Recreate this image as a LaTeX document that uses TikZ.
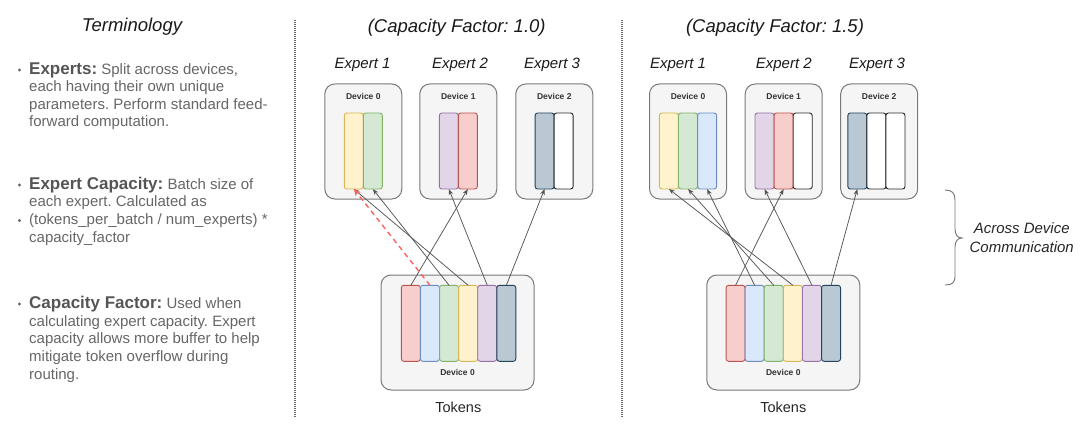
\documentclass[tikz,border=0pt]{standalone}
\usepackage{fontspec}
\setmainfont{Liberation Sans}
\usetikzlibrary{arrows.meta}
\frenchspacing
\definecolor{redF}{HTML}{F8CECC}\definecolor{redD}{HTML}{B85450}
\definecolor{blueF}{HTML}{DAE8FC}\definecolor{blueD}{HTML}{6C8EBF}
\definecolor{greenF}{HTML}{D5E8D4}\definecolor{greenD}{HTML}{82B366}
\definecolor{yelF}{HTML}{FFF2CC}\definecolor{yelD}{HTML}{D6B656}
\definecolor{purF}{HTML}{E1D5E7}\definecolor{purD}{HTML}{9673A6}
\definecolor{gryF}{HTML}{BAC8D3}\definecolor{gryD}{HTML}{23445D}
\definecolor{boxF}{HTML}{F5F5F5}\definecolor{boxD}{HTML}{7A7A7A}
\definecolor{txtG}{HTML}{666666}\definecolor{headG}{HTML}{555555}
\definecolor{arrG}{HTML}{555555}\definecolor{dashR}{HTML}{FF6161}
\begin{document}
\begin{tikzpicture}[x=1pt,y=-1pt,
  bar/.style={rectangle, rounded corners=2.5pt, minimum width=19pt, minimum height=76pt, inner sep=0pt, outer sep=0pt, line width=0.9pt},
  rd/.style={bar, fill=redF, draw=redD},
  bl/.style={bar, fill=blueF, draw=blueD},
  gr/.style={bar, fill=greenF, draw=greenD},
  ye/.style={bar, fill=yelF, draw=yelD},
  pu/.style={bar, fill=purF, draw=purD},
  gy/.style={bar, fill=gryF, draw=gryD},
  wh/.style={bar, fill=white, draw=black!85},
  devbox/.style={rectangle, rounded corners=10pt, minimum width=77pt, minimum height=115pt, fill=boxF, draw=boxD, line width=1pt, inner sep=0pt},
  tokbox/.style={devbox, minimum width=153pt},
  devlbl/.style={inner sep=0pt, font=\fontsize{8.5}{10}\selectfont\bfseries, text=black!80},
  ttl/.style={inner sep=0pt, font=\fontsize{18.5}{22}\selectfont\itshape, text=black!90},
  explbl/.style={inner sep=0pt, font=\fontsize{15}{18}\selectfont\itshape, text=black!90},
  body/.style={inner sep=0pt, anchor=base west, font=\fontsize{15}{18}\selectfont, text=txtG},
  dot/.style={circle, fill=txtG, inner sep=0pt, minimum size=3.2pt},
  arr/.style={draw=arrG, line width=0.75pt, -{Stealth[length=6pt,width=4.5pt]}},
  redarr/.style={draw=dashR, line width=1.4pt, dash pattern=on 5pt off 4pt, -{Stealth[length=7pt,width=6pt,fill=red!80!black]}},
  sep/.style={draw=black!60, line width=1.1pt, dash pattern=on 1pt off 1pt},
  brc/.style={draw=black!55, line width=0.9pt}
]
\useasboundingbox (0,0) rectangle (1080,428);

% ---------- left column ----------
\node[ttl] (term) at (132,27) {Terminology};

\node[dot] (d1) at (19.5,70) {};
\node[body] (b1l1) at (29,74.5) {{\fontsize{17}{18}\selectfont\bfseries\color{headG}Experts:} Split across devices,};
\node[body] (b1l2) at (29,92) {each having their own unique};
\node[body] (b1l3) at (29,109.5) {parameters. Perform standard feed-};
\node[body] (b1l4) at (29,127) {forward computation.};

\node[dot] (d2) at (19.5,185) {};
\node[body] (b2l1) at (29,189.3) {{\fontsize{17}{18}\selectfont\bfseries\color{headG}Expert Capacity:} Batch size of};
\node[body] (b2l2) at (29,206.8) {each expert. Calculated as};
\node[dot] (d3) at (19.5,220.5) {};
\node[body] (b2l3) at (29,224.5) {(tokens\_per\_batch / num\_experts) *};
\node[body] (b2l4) at (29,242) {capacity\_factor};

\node[dot] (d4) at (19.5,304) {};
\node[body] (b3l1) at (29,308.3) {{\fontsize{17}{18}\selectfont\bfseries\color{headG}Capacity Factor:} Used when};
\node[body] (b3l2) at (29,326) {calculating expert capacity. Expert};
\node[body] (b3l3) at (29,343.7) {capacity allows more buffer to help};
\node[body] (b3l4) at (29,361.3) {mitigate token overflow during};
\node[body] (b3l5) at (29,379) {routing.};

% separators
\coordinate (s1a) at (295,20); \coordinate (s1b) at (295,418);
\coordinate (s2a) at (622,20); \coordinate (s2b) at (622,418);
\draw[sep] (s1a) -- (s1b);
\draw[sep] (s2a) -- (s2b);

% ---------- middle panel (CF 1.0) ----------
\node[ttl] (t1) at (456.7,28) {(Capacity Factor: 1.0)};
\node[explbl] (me1) at (362.5,65) {Expert 1};
\node[explbl] (me2) at (460,65) {Expert 2};
\node[explbl] (me3) at (552,65) {Expert 3};

\node[devbox] (mD0) at (363.3,141.5) {};
\node[devbox] (mD1) at (458.3,141.5) {};
\node[devbox] (mD2) at (554.3,141.5) {};
\node[devlbl] (mD0l) at (363.3,96) {Device 0};
\node[devlbl] (mD1l) at (458.3,96) {Device 1};
\node[devlbl] (mD2l) at (554.3,96) {Device 2};
\node[ye] (m0a) at (353.8,151) {};
\node[gr] (m0b) at (372.8,151) {};
\node[pu] (m1a) at (448.8,151) {};
\node[rd] (m1b) at (467.8,151) {};
\node[gy] (m2a) at (544.6,151) {};
\node[wh] (m2b) at (563.6,151) {};

\node[tokbox] (mT) at (457.5,332.5) {};
\node[devlbl] (mTl) at (457.5,372.7) {Device 0};
\node[rd] (mt1) at (410.85,323.3) {};
\node[bl] (mt2) at (429.95,323.3) {};
\node[gr] (mt3) at (449.05,323.3) {};
\node[ye] (mt4) at (468.15,323.3) {};
\node[pu] (mt5) at (487.25,323.3) {};
\node[gy] (mt6) at (506.35,323.3) {};
\node[explbl, font=\fontsize{14.5}{17}\selectfont, text=black!85] (mtok) at (458.3,407.5) {Tokens};

\draw[arr] (mt1.north) -- (m1b.south);
\draw[arr] (mt3.north) -- (m0b.south);
\draw[arr] (mt4.north) -- (m0a.south);
\draw[arr] (mt5.north) -- (m1a.south);
\draw[arr] (mt6.north) -- (m2a.south);
\draw[redarr] (mt2.north) -- (m0a.south);

% ---------- right panel (CF 1.5) ----------
\node[ttl] (t2) at (775,28) {(Capacity Factor: 1.5)};
\node[explbl] (re1) at (678,65) {Expert 1};
\node[explbl] (re2) at (783.8,65) {Expert 2};
\node[explbl] (re3) at (877,65) {Expert 3};

\node[devbox] (rD0) at (688,141.5) {};
\node[devbox] (rD1) at (783.7,141.5) {};
\node[devbox] (rD2) at (879.2,141.5) {};
\node[devlbl] (rD0l) at (688,96) {Device 0};
\node[devlbl] (rD1l) at (783.7,96) {Device 1};
\node[devlbl] (rD2l) at (879.2,96) {Device 2};
\node[ye] (r0a) at (668.9,151) {};
\node[gr] (r0b) at (688,151) {};
\node[bl] (r0c) at (707.1,151) {};
\node[pu] (r1a) at (764.5,151) {};
\node[rd] (r1b) at (783.6,151) {};
\node[wh] (r1c) at (802.7,151) {};
\node[gy] (r2a) at (857.3,151) {};
\node[wh] (r2b) at (876.4,151) {};
\node[wh] (r2c) at (895.5,151) {};

\node[tokbox] (rT) at (783.3,332.5) {};
\node[devlbl] (rTl) at (783.3,372.7) {Device 0};
\node[rd] (rt1) at (735.55,323.3) {};
\node[bl] (rt2) at (754.65,323.3) {};
\node[gr] (rt3) at (773.75,323.3) {};
\node[ye] (rt4) at (792.85,323.3) {};
\node[pu] (rt5) at (811.95,323.3) {};
\node[gy] (rt6) at (831.05,323.3) {};
\node[explbl, font=\fontsize{14.5}{17}\selectfont, text=black!85] (rtok) at (783.3,407.5) {Tokens};

\draw[arr] (rt1.north) -- (r1b.south);
\draw[arr] (rt2.north) -- (r0c.south);
\draw[arr] (rt3.north) -- (r0b.south);
\draw[arr] (rt4.north) -- (r0a.south);
\draw[arr] (rt5.north) -- (r1a.south);
\draw[arr] (rt6.north) -- (r2a.south);

% ---------- brace ----------
\coordinate (bt) at (945,190);
\coordinate (bm) at (962,238);
\coordinate (bb) at (945,285);
\draw[brc] (bt) .. controls (952,190) and (955,193) .. (955,200) -- (955,229)
  .. controls (955,235) and (958,238) .. (bm)
  .. controls (958,238) and (955,241) .. (955,247) -- (955,276)
  .. controls (955,283) and (952,285) .. (bb);
\node[explbl, align=center, font=\fontsize{15}{18.5}\selectfont\itshape, text=black!85] (comm) at (1021.7,237.5) {Across Device\\Communication};
\end{tikzpicture}
\end{document}
